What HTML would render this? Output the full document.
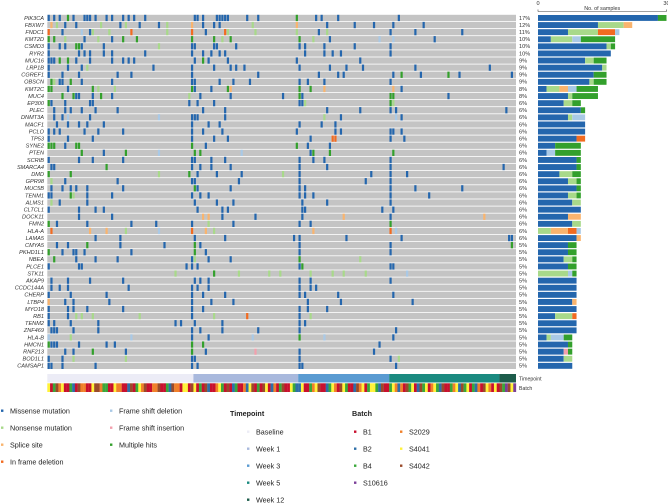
<!DOCTYPE html>
<html><head><meta charset="utf-8">
<style>
html,body{margin:0;padding:0;background:#fff;}
svg{display:block;font-family:"Liberation Sans",Arial,sans-serif;}
</style></head>
<body>
<svg id="chart" width="668" height="503" viewBox="0 0 668 503" xmlns="http://www.w3.org/2000/svg">
<g id="matrix"></g>
<g id="labels"></g>
<g id="bars"></g>
<g id="annot"></g>
<g id="legend"></g>
</svg>
<script>
const genes = ["PIK3CA","FBXW7","FNDC1","KMT2D","CSMD3","RYR2","MUC16","LRP1B","CGREF1","OBSCN","KMT2C","MUC4","EP300","PLEC","DNMT3A","MACF1","PCLO","TP53","SYNE2","PTEN","SCRIB","SMARCA4","DMD","GPR98","MUC5B","TENM1","ALMS1","CLTCL1","DOCK11","FMN2","HLA-A","LAMA5","CMYA5","PKHD1L1","NBEA","PLCE1","STK11","AKAP9","CCDC144A","CHERP","LTBP4","MYO18","RB1","TENM2","ZNF469","HLA-B","HMCN1","RNF213","BOD1L1","CAMSAP1"];
const percents = ["17%","12%","11%","10%","10%","10%","9%","9%","9%","9%","8%","8%","6%","6%","6%","6%","6%","6%","6%","6%","6%","6%","6%","6%","6%","6%","6%","6%","6%","6%","6%","6%","5%","5%","5%","5%","5%","5%","5%","5%","5%","5%","5%","5%","5%","5%","5%","5%","5%","5%"];
// bar counts per type: M,N,S,I,D,F,H
const countM = [28,14,7,3,16,17,11,15,13,12,2,7,6,10,7,11,11,9,4,2,9,9,5,7,9,7,8,10,7,8,0,9,7,7,6,7,0,9,9,9,8,9,4,9,9,2,7,6,6,8];
const countN = [0,6,7,5,1,0,2,1,0,1,3,1,2,0,1,0,0,0,0,0,0,0,3,2,0,2,2,0,0,2,3,0,0,0,2,0,7,0,0,0,0,0,4,0,0,1,0,0,2,0];
const countS = [0,2,0,0,0,0,0,0,0,0,2,0,0,0,0,0,0,0,0,0,0,0,0,0,0,0,0,0,3,0,4,1,0,0,0,0,0,0,0,0,1,0,0,0,0,0,0,0,0,0];
const countI = [0,0,4,0,0,0,0,0,0,0,0,0,0,0,0,0,0,2,0,0,0,0,0,0,0,0,0,0,0,0,2,0,0,0,0,0,0,0,0,0,0,0,1,0,0,0,0,0,0,0];
const countD = [0,0,1,2,0,0,0,0,0,0,2,0,0,0,3,0,0,0,0,2,0,0,0,0,0,0,0,0,0,0,1,0,0,0,0,0,1,0,0,0,0,0,0,0,0,3,0,0,0,0];
const countF = [0,0,0,0,0,0,0,0,0,0,0,0,0,0,0,0,0,0,0,0,0,0,0,0,0,0,0,0,0,0,0,0,0,0,0,0,0,0,0,0,0,0,0,0,0,0,0,1,0,0];
const countH = [2,0,0,8,1,0,3,0,3,3,5,6,2,1,0,0,0,0,6,6,1,1,2,1,1,1,0,0,0,0,0,0,2,2,1,2,1,0,0,0,0,0,0,0,0,2,1,1,0,0];
const xTicks = [0,30];
// mutated samples per gene: "column+type"
const mutations = [
"0M 2M 4M 7H 9M 13M 14M 15M 17M 21M 23M 27M 29M 31M 35M 53M 54M 56M 61M 62M 63M 64M 65M 72M 76M 90H 97M 99M 127M 105M",
"1S 6M 26M 28N 33M 43N 52S 56M 60M 62M 74N 90S 101M 111M 118M 125M 136M 3N 19N 10M 40M",
"0I 5M 15M 16N 22N 30I 43N 52I 57M 64I 65N 75N 90N 98M 101N 124M 12D 133M 150M",
"0H 2H 6N 13M 23M 27H 32H 52H 60H 63N 66H 91H 96N 102M 120D 18N 140M 125D",
"0M 4M 6M 10H 11H 12M 20M 52M 53M 60M 61M 68M 91M 93M 100M 111M 124M 40N",
"0M 11M 13M 15M 20M 23M 35M 52M 56M 59M 62M 64M 93M 100M 103M 106M 124M",
"0M 1M 2M 4H 7H 10M 15M 23M 27M 29M 31M 53M 56H 58M 65M 90M 113M",
"0M 7M 12M 14N 38M 52M 60M 66M 68M 71M 91M 102M 108M 114M 133M 160M",
"0M 5M 11M 25M 52M 76M 98M 105M 125M 107M 128H 135M 145H 149M 168M 30M",
"1H 2N 4M 5M 8H 12M 23M 52M 53M 62M 67M 73M 91M 94M 100M 124M",
"0H 1H 7M 16H 18N 24N 52H 53M 59M 65H 66S 91H 95H 100S 125S 128M",
"5H 9H 10M 11M 16M 19H 23M 51N 55M 66M 85M 91H 92M 124H 125H 145M",
"0H 1M 6M 15M 16M 51M 54M 60M 91M 92M 124H 93N 125N",
"2M 6M 8M 12M 17M 25M 56M 64M 101M 113M 124M 126M 166M",
"2M 5M 7D 15M 52M 53M 54M 64M 106M 128M 126D 40D 100N",
"3M 7M 11M 14M 20M 52M 58M 62M 91M 99M 104M",
"0M 2M 4M 13M 18M 27M 52M 56M 63M 90M 104M 106M 124M 125M 128M",
"0M 7M 16M 52M 60M 65M 95M 103I 104I 124M 129M",
"0H 1H 2H 6M 10H 11H 52H 57M 90H 94M 102M",
"12H 20M 28H 53H 55H 95M 96H 102H 125H 40D 70D",
"0M 11M 16M 27M 52M 53M 59M 64M 91M 96M 100M 124M",
"1M 2M 21H 52M 55M 59M 66M 91M 101M 124M 165M",
"0H 8H 51H 54M 61M 70M 91M 117M 124M 130M 85N 40N",
"1N 6M 25M 52M 53M 69M 91M 124M 115M",
"1M 5M 8M 10M 14M 27M 53H 54M 66M 91M 93M 124M 133M 150M",
"0M 1M 8H 9N 14M 23M 52M 55M 58M 91M 93M 96M 124M 138M",
"1N 4M 14M 53M 61M 67M 92M 101M 124M",
"0M 11M 17M 20M 54M 63M 65M 92M 93M 121M 125M",
"11M 23M 56S 58S 63M 75M 107S 158S 124M 92M",
"0H 3M 14M 30M 39M 52M 58N 67M 91M 95M 124H",
"1I 15S 21S 28N 40D 52I 57S 60N 96S 124I 126D",
"17M 26M 53M 64M 89M 91M 108M 128M 167M 168M",
"3M 7M 14H 26M 42M 53H 55M 91M 124M 168H",
"0H 5M 9M 10M 13M 30M 53H 57M 91M 124M",
"2H 10M 17M 25M 52M 53N 58M 66M 91H 113N",
"0M 11M 12M 50M 52M 54M 91M 92H 124M 125M",
"46N 60H 69N 80N 84N 95N 103N 107N 115N 130D",
"1M 7M 15M 27M 53M 55M 58M 91M 95M 124M",
"1M 4M 7M 29M 52M 54M 58M 91M 95M 97M",
"0M 8M 21M 52M 56M 64M 91M 93M 105M 125M",
"0S 6M 9M 22M 52M 59M 67M 94M 106M 132M",
"0M 7M 9M 14M 27M 52M 56M 91M 94M 101M",
"0M 7M 10N 12N 16N 33N 52M 60N 72I 91M 95N",
"0M 2M 8M 18M 46M 48M 53M 63M 91M 93M",
"1M 2M 3M 9M 18M 52M 55M 63M 76M 91M 126M",
"0D 8N 30D 52M 58M 74D 91H 100D 125M",
"0H 1M 2M 3M 11M 21M 24M 52H 56H 120M",
"6M 9M 16H 28M 52H 57M 75F 91M 118M",
"0M 5M 9N 28N 52M 53M 91M 124M 127N",
"0M 1M 5M 17M 52M 54M 91M 92M 126M"
];
const timepointNames = ["Baseline","Week 1","Week 3","Week 5","Week 12"];
const timepointCounts = [53,38,33,40,6];
const batchNames = ["B1","B2","B4","S10616","S2029","S4041","S4042"];
const batchCodes = "yrgwoyrrgbrwoorrywwoggrryoorrbwrgyowrroowrrgbwooryyrwyrgrwbrroygrwrbgrrobywrgrwyrborgwrrygbbyrrgoywrrbgyorwygrrbwoyrgyygbwrrgyoborwgyrbwgyroygbwrrgoybwgyrgborwyoryrwgpwyp";

const NS='http://www.w3.org/2000/svg';
function el(tag, attrs, parent){const e=document.createElementNS(NS,tag);for(const k in attrs)e.setAttribute(k,attrs[k]);parent.appendChild(e);return e;}
const typeColor={M:'#2466ad',N:'#a8d98a',S:'#f9b46e',I:'#f26b21',D:'#a9c9e6',F:'#f2a0ad',H:'#33a02c'};
const batchColor={r:'#c8102e',b:'#2e6fa8',g:'#3aa83a',p:'#7b3f98',o:'#f0802a',y:'#fff23a',w:'#9a4a2a'};
const tpColor=['#ececf6','#a9b9dd','#5a9bd2','#1a8a80','#1d5c4b'];
const N=170, X0=47.3, X1=516, colW=(X1-X0)/N, Y0=14.8, pitch=7.1, rowH=6.3;
const xCol=c=>X0+c*colW, yRow=i=>Y0+i*pitch;
const BX0=538, BX1=666.5, xBar=v=>BX0+v*(BX1-BX0)/xTicks[1];

const mat=document.getElementById('matrix'), lab=document.getElementById('labels'), bars=document.getElementById('bars');
genes.forEach((g,i)=>{
  const y=yRow(i);
  const r=el('rect',{x:X0,y:y,width:X1-X0,height:rowH,fill:'#c4c4c4'},mat);
  
  
  mutations[i].split(' ').forEach(tok=>{
    const c=parseInt(tok), t=tok.slice(-1);
    const m=el('rect',{x:xCol(c)+0.3,y:y,width:colW*0.8,height:rowH,fill:typeColor[t]},mat);
    
    
  });
  const t=el('text',{x:44,y:y+rowH-1.3,'font-size':5.6,'font-style':'italic','text-anchor':'end',fill:'#333'},lab);
  t.textContent=g;
  
  
  const p=el('text',{x:519,y:y+rowH-1.3,'font-size':5.6,fill:'#333'},lab);
  p.textContent=percents[i];
  
  
  const series=[countM[i],countN[i],countS[i],countI[i],countD[i],countF[i],countH[i]];
  const keys=['M','N','S','I','D','F','H'];
  let acc=0;
  series.forEach((v,k)=>{ if(!v)return;
    const b=el('rect',{x:xBar(acc),y:y+0.2,width:xBar(acc+v)-xBar(acc),height:rowH-0.4,fill:typeColor[keys[k]]},bars);
    
    
    acc+=v;});
});
// bar axis
const ax=el('line',{x1:BX0,x2:BX1,y1:11.5,y2:11.5,stroke:'#444','stroke-width':0.6},bars);


xTicks.forEach(v=>{
  const tl=el('line',{x1:xBar(v),x2:xBar(v),y1:9.5,y2:11.5,stroke:'#444','stroke-width':0.6},bars);
  
  
  const tt=el('text',{x:xBar(v),y:5,'font-size':5.6,'text-anchor':'middle',fill:'#333'},bars);
  tt.textContent=v;
  
  
});
const axt=el('text',{x:(BX0+BX1)/2,y:10,'font-size':5.4,'text-anchor':'middle',fill:'#333'},bars);
axt.textContent='No. of samples';



// annotation tracks
const an=document.getElementById('annot');
let c0=0;
timepointCounts.forEach((n,k)=>{
  const r=el('rect',{x:xCol(c0),y:374,width:n*colW,height:8.5,fill:tpColor[k]},an);
  
  
  c0+=n;
});
for(let c=0;c<N;c++){
  const code=batchCodes.charAt(c)||'r';
  const r=el('rect',{x:xCol(c),y:383.3,width:colW+0.15,height:8.7,fill:batchColor[code]},an);
  
  
}
[['Timepoint',380.5],['Batch',390]].forEach(([s,y])=>{
  const t=el('text',{x:519,y:y,'font-size':5.2,fill:'#333'},an);
  t.textContent=s;
  
  
});

// legend
const lg=document.getElementById('legend');
function item(x,y,color,label){
  const m=el('rect',{x:x,y:y-4,width:2.4,height:2.4,fill:color},lg);
  
  
  const t=el('text',{x:x+9,y:y,'font-size':7.2,fill:'#222'},lg);
  t.textContent=label;
  
  
}
item(1,413.5,typeColor.M,'Missense mutation');
item(1,430.5,typeColor.N,'Nonsense mutation');
item(1,447.5,typeColor.S,'Splice site');
item(1,464.5,typeColor.I,'In frame deletion');
item(110,413.5,typeColor.D,'Frame shift deletion');
item(110,430.5,typeColor.F,'Frame shift insertion');
item(110,447.5,typeColor.H,'Multiple hits');
const tt=el('text',{x:230,y:416,'font-size':7.2,'font-weight':'bold',fill:'#222'},lg);
tt.textContent='Timepoint';


timepointNames.forEach((n,k)=>item(247,434.5+k*17,tpColor[k],n));
const bt=el('text',{x:352,y:416,'font-size':7.2,'font-weight':'bold',fill:'#222'},lg);
bt.textContent='Batch';


item(354,434.5,batchColor.r,'B1');
item(354,451.5,batchColor.b,'B2');
item(354,468.5,batchColor.g,'B4');
item(354,485.5,batchColor.p,'S10616');
item(400,434.5,batchColor.o,'S2029');
item(400,451.5,batchColor.y,'S4041');
item(400,468.5,batchColor.w,'S4042');
</script>
</body></html>
